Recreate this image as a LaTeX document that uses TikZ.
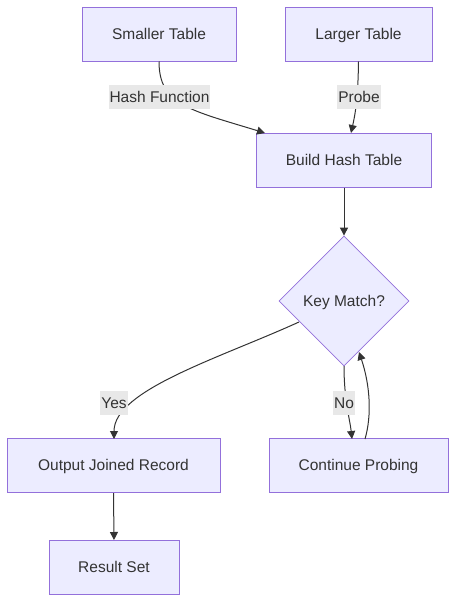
\documentclass[tikz,border=0pt]{standalone}
\usepackage{fontspec}
\setmainfont{Liberation Sans}
\usetikzlibrary{arrows.meta,shapes.geometric}
\definecolor{nfill}{HTML}{ECECFF}
\definecolor{nstroke}{HTML}{9370DB}
\definecolor{ntext}{HTML}{333333}
\definecolor{lbg}{HTML}{E8E8E8}
\tikzset{
  txt/.style={text=ntext,font=\fontsize{15.5}{18}\selectfont,text height=12pt,text depth=1.5pt},
  box/.style={txt,draw=nstroke,fill=nfill,line width=1pt,minimum height=54pt,inner sep=0pt},
  dia/.style={txt,diamond,draw=nstroke,fill=nfill,line width=0.8pt,minimum width=130pt,minimum height=130pt,inner sep=0pt},
  lbl/.style={txt,fill=lbg,inner xsep=1pt,inner ysep=5pt},
  edge/.style={draw=ntext,line width=1pt,-{Triangle[length=8pt,width=8pt]}},
}
\begin{document}
\begin{tikzpicture}[x=1pt,y=-1pt]
\useasboundingbox (0,0) rectangle (464,613);
\node[box,minimum width=154pt] (small) at (159,34) {Smaller Table};
\node[box,minimum width=147pt] (large) at (358.5,34) {Larger Table};
\node[box,minimum width=175pt] (build) at (344,160) {Build Hash Table};
\node[dia] (key) at (344,301) {Key Match?};
\node[box,minimum width=213pt] (out) at (113.5,465.5) {Output Joined Record};
\node[box,minimum width=179pt] (cont) at (358.5,465.5) {Continue Probing};
\node[box,minimum width=130pt] (res) at (114,567.5) {Result Set};
\coordinate (bA) at (265,133);
\coordinate (bB) at (351,133);
\coordinate (kL) at (299,322);
\coordinate (kB) at (344,366);
\coordinate (kR) at (359,352);
\coordinate (oT) at (114,439);
\coordinate (cT) at (352,439);
\coordinate (cS) at (365,439);
\draw[edge] (small.south) .. controls (159,105) and (190,110) .. (bA);
\draw[edge] (large.south) .. controls (358,100) and (355,115) .. (bB);
\draw[edge] (build.south) -- (key.north);
\draw[edge] (kL) .. controls (220,358) and (114,390) .. (oT);
\draw[edge] (kB) .. controls (344,400) and (350,420) .. (cT);
\draw[edge] (cS) .. controls (372,415) and (370,385) .. (kR);
\node[lbl] (l1) at (159.5,97) {Hash Function};
\node[lbl] (l2) at (359,97) {Probe};
\node[lbl] (l3) at (114,403) {Yes};
\node[lbl] (l4) at (344,403) {No};
\draw[edge] (out.south) -- (res.north);
\end{tikzpicture}
\end{document}
